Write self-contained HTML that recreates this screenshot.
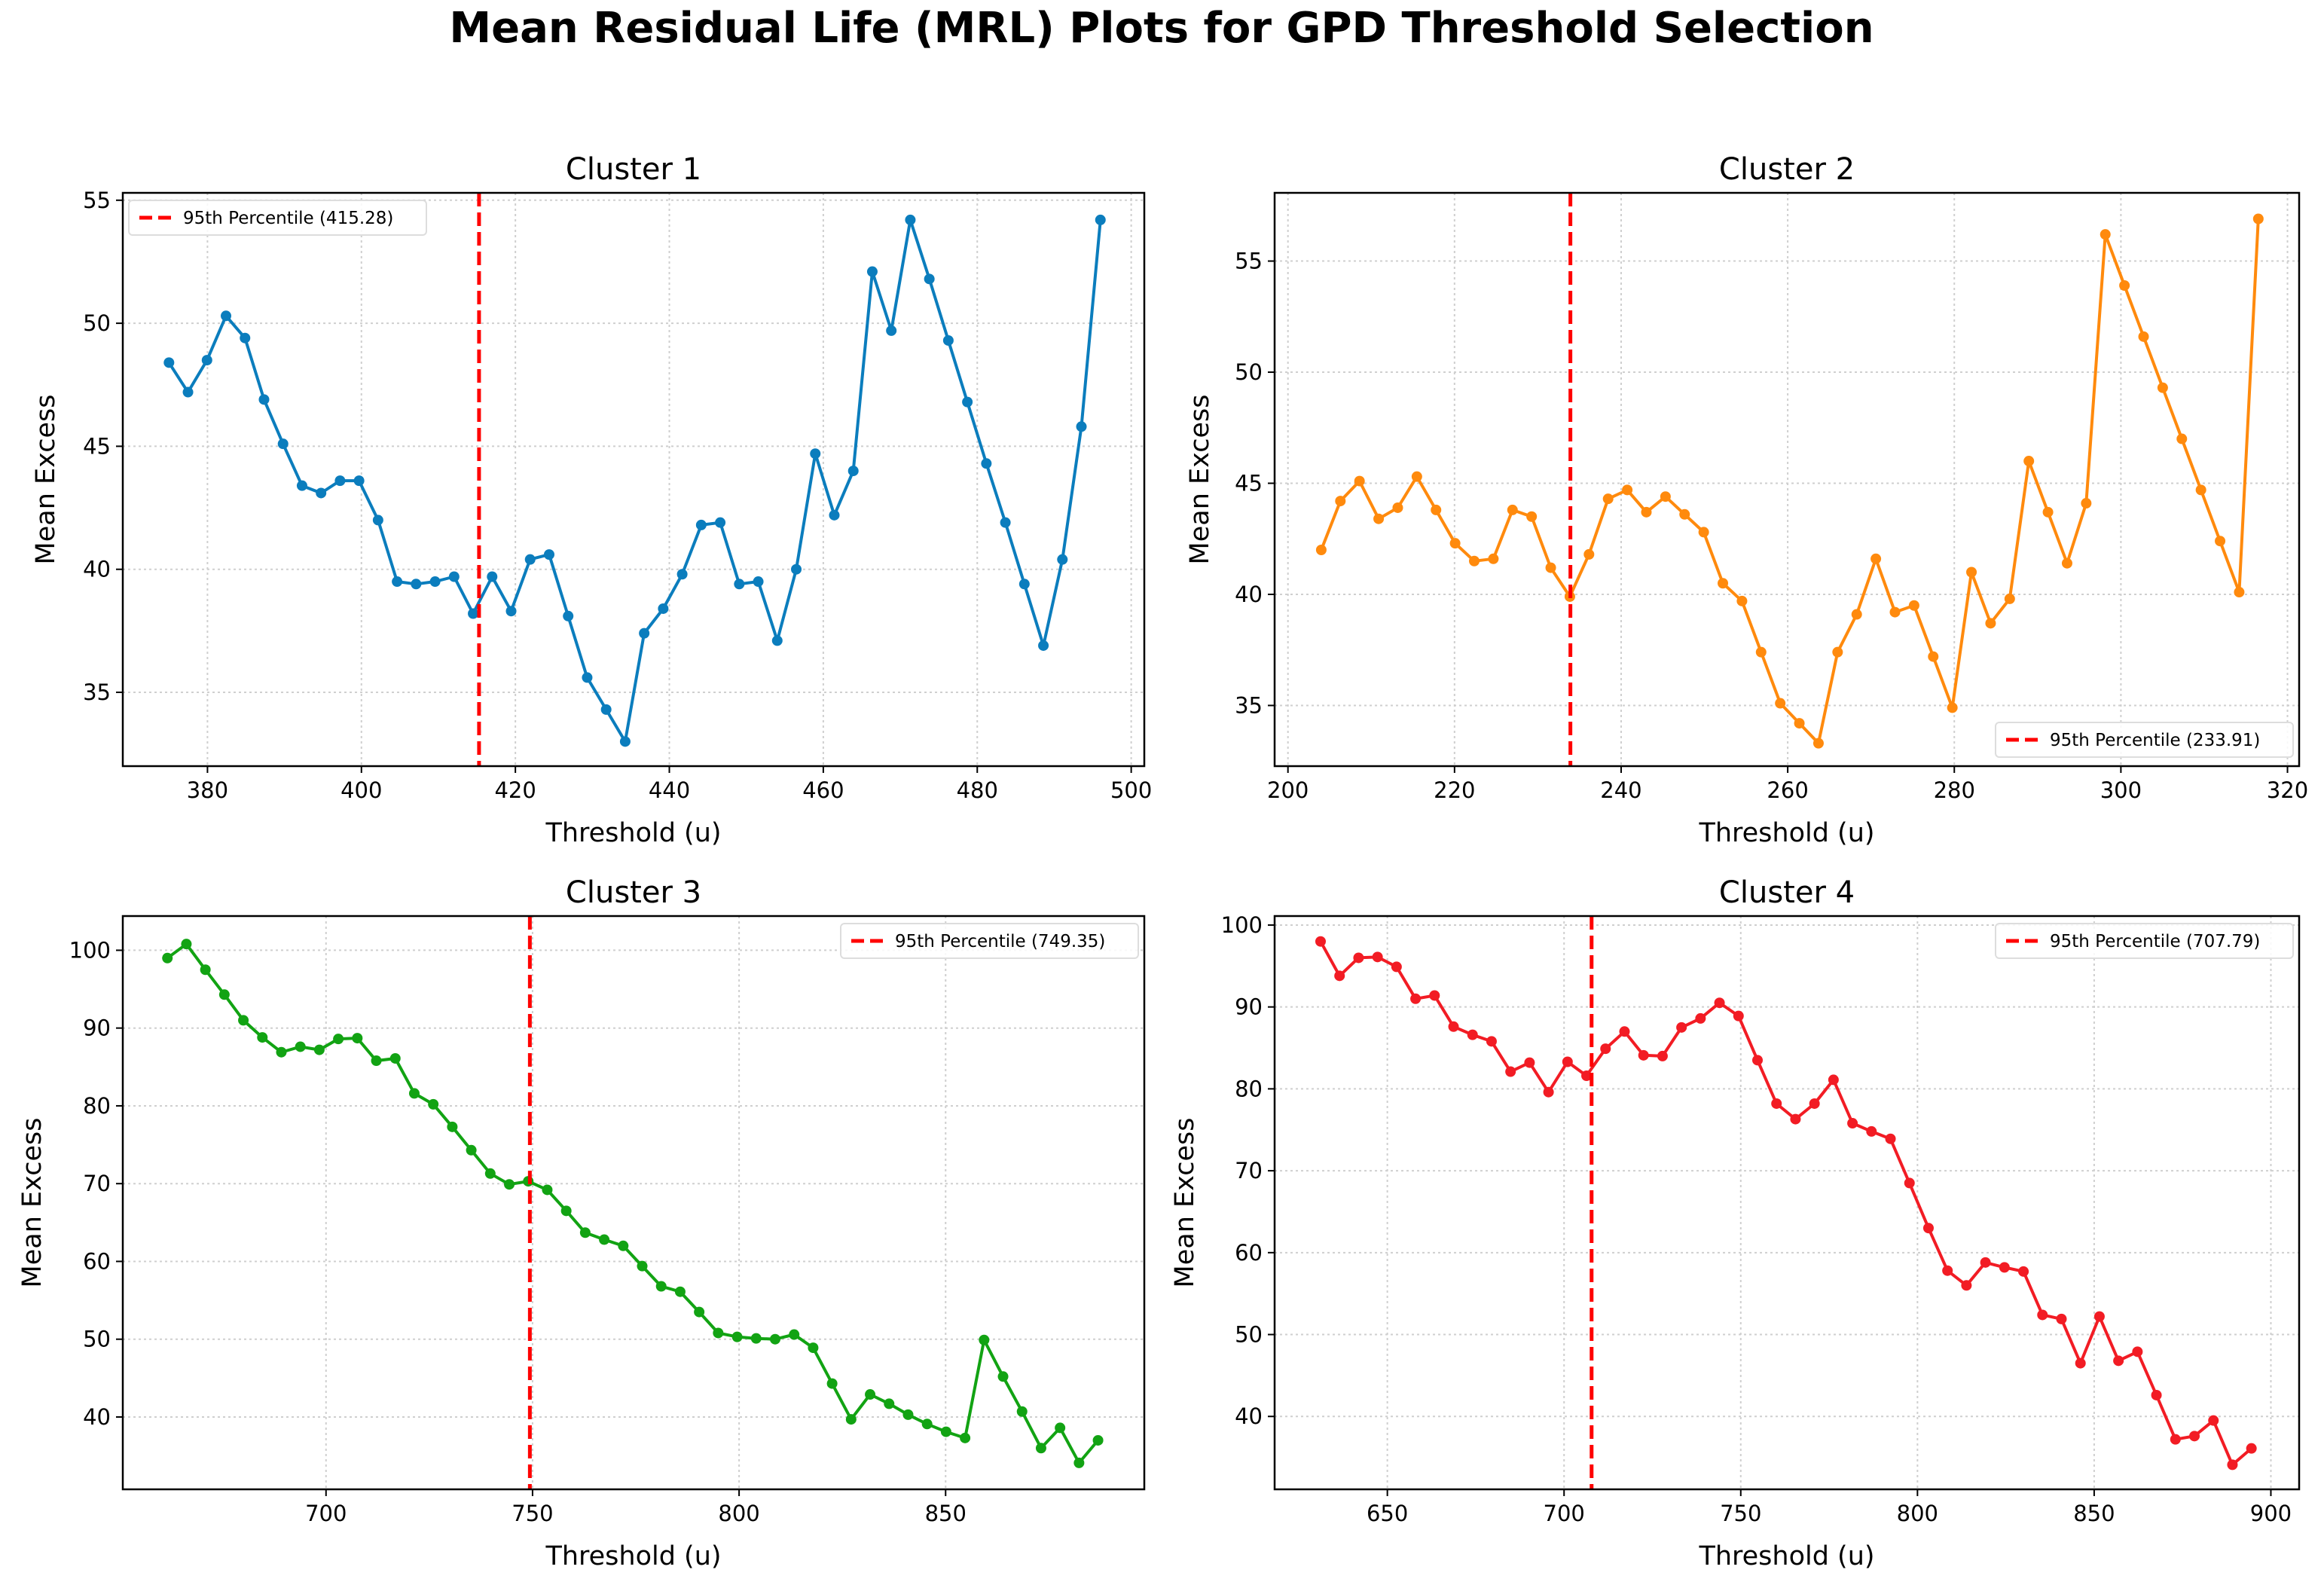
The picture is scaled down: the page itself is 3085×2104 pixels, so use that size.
<!DOCTYPE html>
<html><head><meta charset="utf-8"><style>
html,body{margin:0;padding:0;background:#fff;}
svg{display:block;font-family:"DejaVu Sans","Liberation Sans",sans-serif;}
</style></head><body>
<svg id="chart" width="3085" height="2104" viewBox="0 0 3085 2104" xmlns="http://www.w3.org/2000/svg">
<text x="1542" y="56" text-anchor="middle" font-size="56" font-weight="bold" fill="#000">Mean Residual Life (MRL) Plots for GPD Threshold Selection</text>
</svg>
<script>
// ---- Data ----
const c1Values=[48.4,47.2,48.5,50.3,49.4,46.9,45.1,43.4,43.1,43.6,43.6,42.0,39.5,39.4,39.5,39.7,38.2,39.7,38.3,40.4,40.6,38.1,35.6,34.3,33.0,37.4,38.4,39.8,41.8,41.9,39.4,39.5,37.1,40.0,44.7,42.2,44.0,52.1,49.7,54.2,51.8,49.3,46.8,44.3,41.9,39.4,36.9,40.4,45.8,54.2];
const c1Start=375, c1End=496;
const c2Values=[42.0,44.2,45.1,43.4,43.9,45.3,43.8,42.3,41.5,41.6,43.8,43.5,41.2,39.9,41.8,44.3,44.7,43.7,44.4,43.6,42.8,40.5,39.7,37.4,35.1,34.2,33.3,37.4,39.1,41.6,39.2,39.5,37.2,34.9,41.0,38.7,39.8,46.0,43.7,41.4,44.1,56.2,53.9,51.6,49.3,47.0,44.7,42.4,40.1,56.9];
const c2Start=204, c2End=316.5;
const c3Values=[99,100.8,97.5,94.3,91,88.8,86.9,87.6,87.2,88.6,88.7,85.8,86.1,81.6,80.2,77.3,74.3,71.3,69.9,70.3,69.2,66.5,63.7,62.8,62,59.4,56.8,56.1,53.5,50.8,50.3,50.1,50,50.6,48.9,44.3,39.7,42.9,41.7,40.3,39.1,38.1,37.3,49.9,45.2,40.7,36,38.6,34.1,37];
const c3Start=661.6, c3End=886.9;
const c4Values=[98,93.8,96,96.1,94.9,91,91.4,87.6,86.6,85.8,82.1,83.2,79.6,83.3,81.6,84.9,87,84.1,84,87.5,88.6,90.5,88.9,83.5,78.2,76.3,78.2,81.1,75.8,74.8,73.9,68.5,63,57.8,56,58.8,58.2,57.7,52.4,51.9,46.5,52.2,46.8,47.9,42.6,37.2,37.6,39.5,34.1,36.1];
const c4Start=631.1, c4End=894.5;
const percentiles=[415.28,233.91,749.35,707.79];
const c1XTicks=[380,400,420,440,460,480,500], c1YTicks=[35,40,45,50,55];
const c2XTicks=[200,220,240,260,280,300,320], c2YTicks=[35,40,45,50,55];
const c3XTicks=[700,750,800,850], c3YTicks=[40,50,60,70,80,90,100];
const c4XTicks=[650,700,750,800,850,900], c4YTicks=[40,50,60,70,80,90,100];

const NS="http://www.w3.org/2000/svg";
const svg=document.getElementById('chart');
function mk(tag,attrs,parent){const e=document.createElementNS(NS,tag);for(const k in attrs)e.setAttribute(k,attrs[k]);(parent||svg).appendChild(e);return e;}

const panels=[
 {name:'cluster-1',title:'Cluster 1',vals:c1Values,s:c1Start,e:c1End,xt:c1XTicks,yt:c1YTicks,color:'#0b7dbd',box:[163,256,1519,1017],xl:[369,501.7],yl:[32.0,55.3],leg:'tl',ylabX:72},
 {name:'cluster-2',title:'Cluster 2',vals:c2Values,s:c2Start,e:c2End,xt:c2XTicks,yt:c2YTicks,color:'#ff8a0d',box:[1692,256,3052,1017],xl:[198.4,321.4],yl:[32.27,58.07],leg:'br',ylabX:1604},
 {name:'cluster-3',title:'Cluster 3',vals:c3Values,s:c3Start,e:c3End,xt:c3XTicks,yt:c3YTicks,color:'#12a313',box:[163,1216,1519,1977],xl:[650.8,898.1],yl:[30.7,104.4],leg:'tr',ylabX:54},
 {name:'cluster-4',title:'Cluster 4',vals:c4Values,s:c4Start,e:c4End,xt:c4XTicks,yt:c4YTicks,color:'#f21c24',box:[1692,1216,3052,1977],xl:[618.1,908],yl:[31.1,101.1],leg:'tr',ylabX:1584}
];

panels.forEach((p,pi)=>{
 const [L,T,R,B]=p.box;
 const g=mk('g',{});
 
 
 const xs=v=>L+(v-p.xl[0])/(p.xl[1]-p.xl[0])*(R-L);
 const ys=v=>B-(v-p.yl[0])/(p.yl[1]-p.yl[0])*(B-T);
 p.xt.forEach(t=>{const x=xs(t);
  const gl=mk('line',{x1:x,x2:x,y1:T,y2:B,stroke:'#cfcfcf','stroke-width':2,'stroke-dasharray':'3,4'},g);
  
  mk('line',{x1:x,x2:x,y1:B,y2:B+9,stroke:'#000','stroke-width':2},g);
  const tl=mk('text',{x:x,y:B+42,'text-anchor':'middle','font-size':29,fill:'#000'},g);tl.textContent=t;
  
 });
 p.yt.forEach(t=>{const y=ys(t);
  const gl=mk('line',{x1:L,x2:R,y1:y,y2:y,stroke:'#cfcfcf','stroke-width':2,'stroke-dasharray':'3,4'},g);
  
  mk('line',{x1:L-9,x2:L,y1:y,y2:y,stroke:'#000','stroke-width':2},g);
  const tl=mk('text',{x:L-16,y:y+10,'text-anchor':'end','font-size':29,fill:'#000'},g);tl.textContent=t;
  
 });
 const n=p.vals.length, step=(p.e-p.s)/(n-1);
 const pts=p.vals.map((v,i)=>xs(p.s+i*step).toFixed(1)+','+ys(v).toFixed(1)).join(' ');
 const line=mk('polyline',{points:pts,fill:'none',stroke:p.color,'stroke-width':4,'stroke-linejoin':'round'},g);
 
 p.vals.forEach((v,i)=>{const c=mk('circle',{cx:xs(p.s+i*step),cy:ys(v),r:7,fill:p.color},g);
  });
 const px=xs(percentiles[pi]);
 const pl=mk('line',{x1:px,x2:px,y1:T,y2:B,stroke:'#ff0000','stroke-width':5,'stroke-dasharray':'18,8'},g);
 
 const fr=mk('rect',{x:L,y:T,width:R-L,height:B-T,fill:'none',stroke:'#000','stroke-width':2.5},g);
 
 const ti=mk('text',{x:(L+R)/2,y:T-18,'text-anchor':'middle','font-size':40,fill:'#000'},g);ti.textContent=p.title;
 
 const xl=mk('text',{x:(L+R)/2,y:B+100,'text-anchor':'middle','font-size':35,fill:'#000'},g);xl.textContent='Threshold (u)';
 
 const yc=(T+B)/2;
 const yl=mk('text',{x:p.ylabX,y:yc,'text-anchor':'middle','font-size':35,fill:'#000',transform:`rotate(-90 ${p.ylabX} ${yc})`},g);yl.textContent='Mean Excess';
 
 const lw=395,lh=46;
 let lx,ly;
 if(p.leg==='tl'){lx=L+8;ly=T+10;} else if(p.leg==='tr'){lx=R-lw-8;ly=T+10;} else {lx=R-lw-8;ly=B-lh-12;}
 const lg=mk('g',{},g);
 
 mk('rect',{x:lx,y:ly,width:lw,height:lh,rx:5,fill:'#fff','fill-opacity':0.85,stroke:'#dddddd','stroke-width':2},lg);
 mk('line',{x1:lx+14,x2:lx+58,y1:ly+lh/2,y2:ly+lh/2,stroke:'#ff0000','stroke-width':5,'stroke-dasharray':'17,8'},lg);
 const lt=mk('text',{x:lx+72,y:ly+lh/2+8,'font-size':23,fill:'#000'},lg);lt.textContent='95th Percentile ('+percentiles[pi].toFixed(2)+')';
 
});
</script>
</body></html>
